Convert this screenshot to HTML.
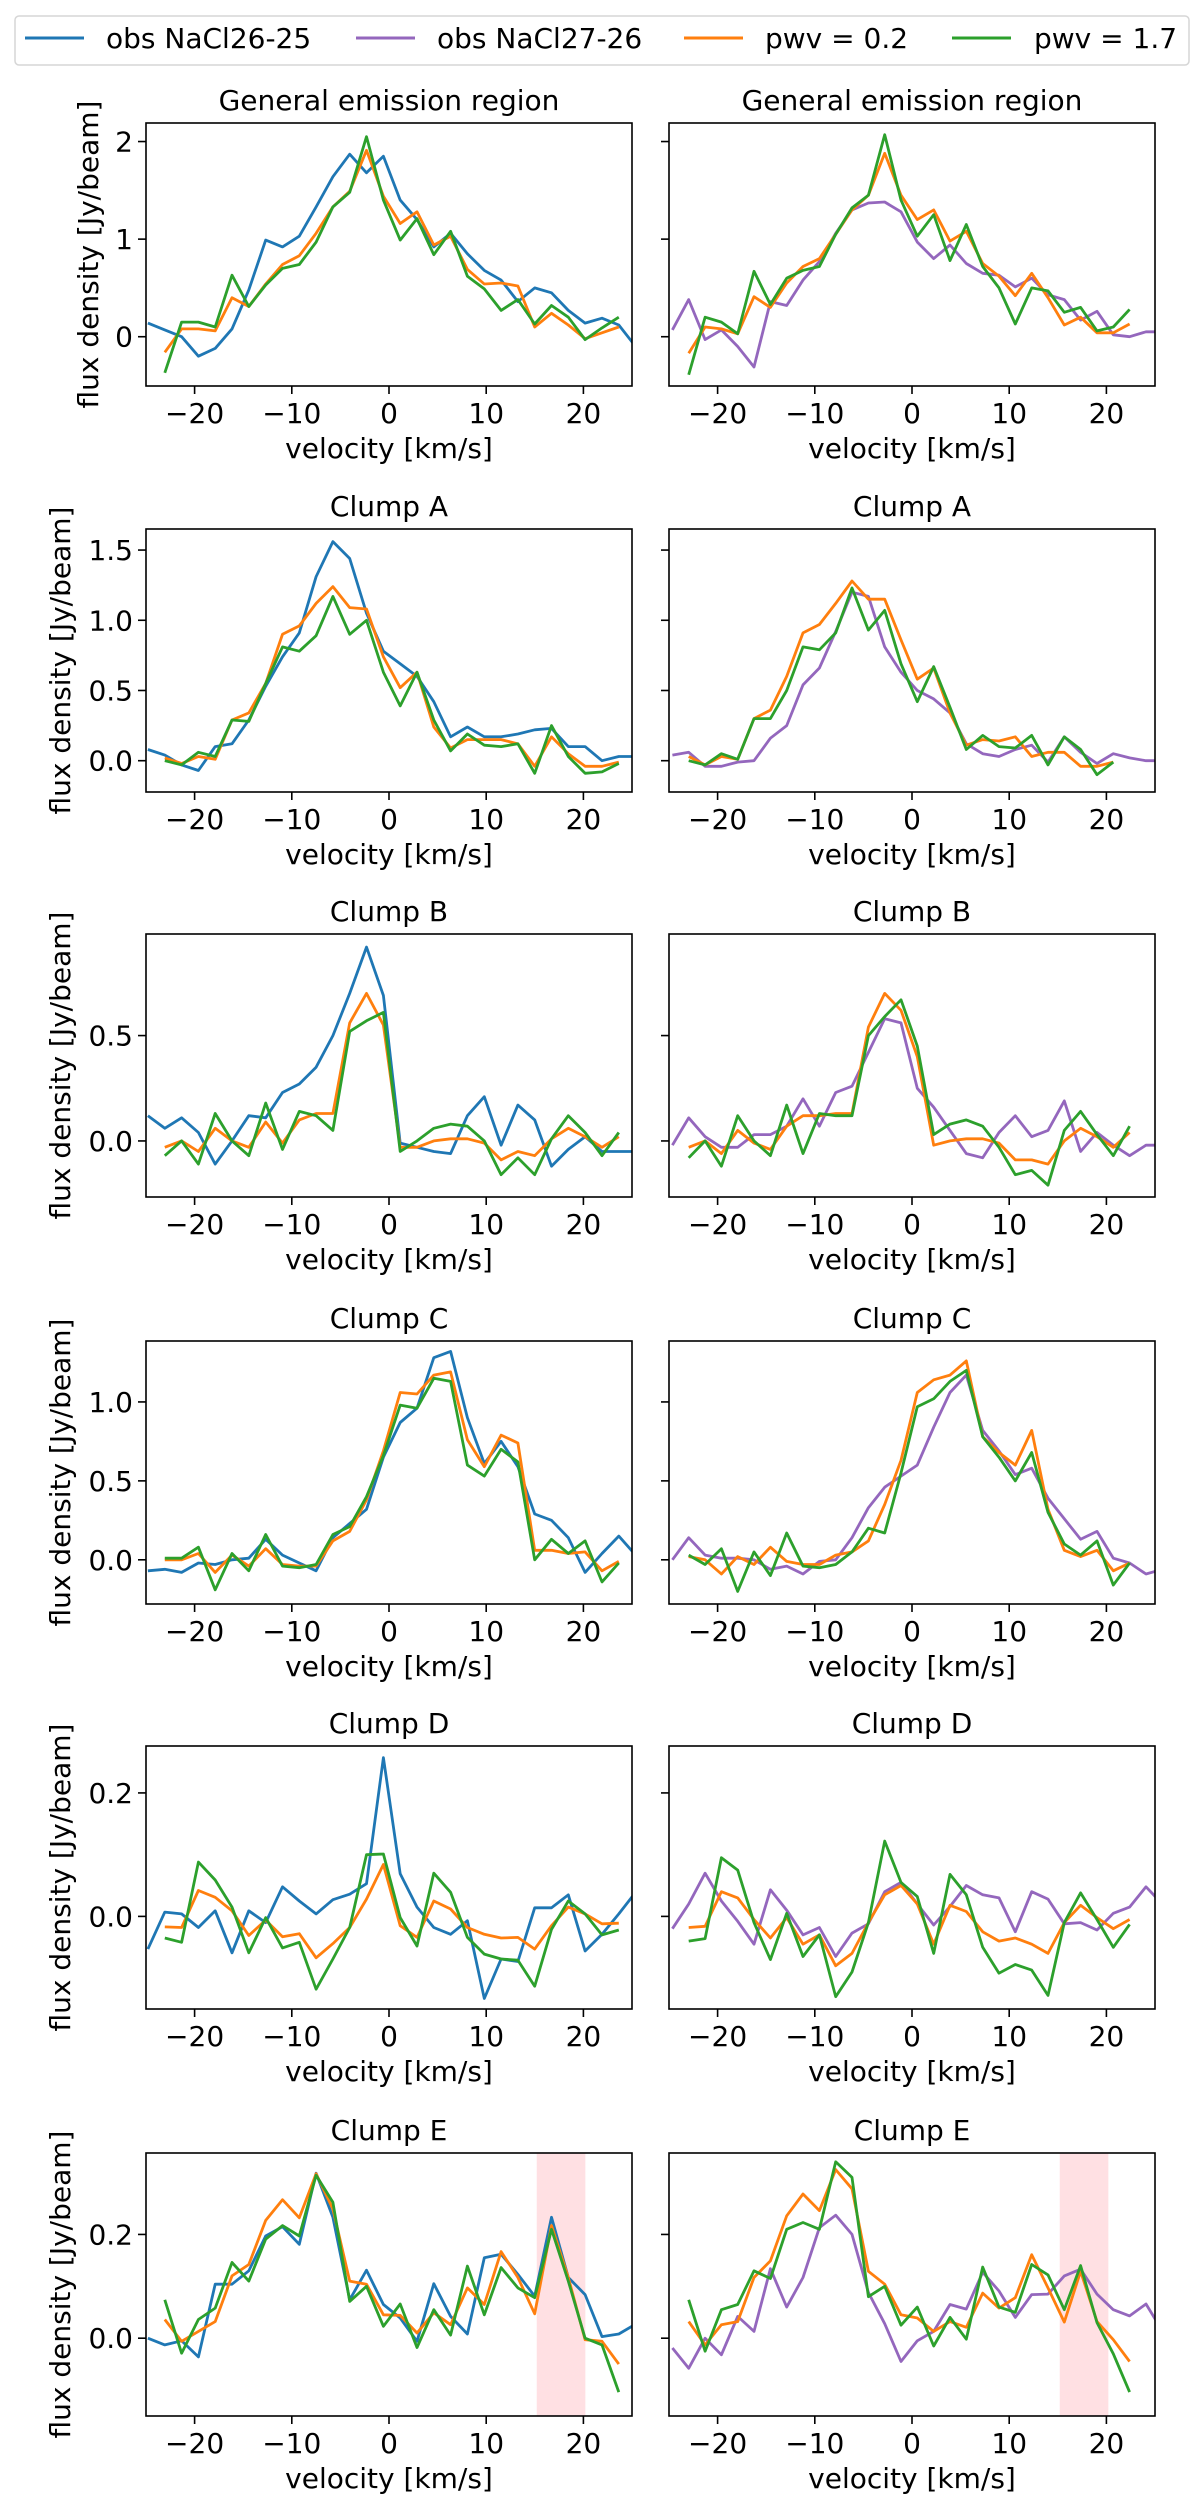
<!DOCTYPE html>
<html><head><meta charset="utf-8">
<style>
html,body{margin:0;padding:0;background:#fff;}
svg{display:block;font-family:"DejaVu Sans","Liberation Sans",sans-serif;}
</style></head>
<body>
<svg id="fig" width="1200" height="2506" viewBox="0 0 1200 2506" xmlns="http://www.w3.org/2000/svg">
<g>
<rect x="15" y="16" width="1174" height="49" rx="4" fill="#fff" stroke="#d6d6d6" stroke-width="1.5"/>
<g><line x1="25" y1="38" x2="84" y2="38" stroke="#1f77b4" stroke-width="3"/><text x="106" y="48" font-size="28">obs NaCl26-25</text></g>
<g><line x1="356" y1="38" x2="415" y2="38" stroke="#9467bd" stroke-width="3"/><text x="437" y="48" font-size="28">obs NaCl27-26</text></g>
<g><line x1="684" y1="38" x2="743" y2="38" stroke="#ff7f0e" stroke-width="3"/><text x="765" y="48" font-size="28">pwv = 0.2</text></g>
<g><line x1="952" y1="38" x2="1011" y2="38" stroke="#2ca02c" stroke-width="3"/><text x="1034" y="48" font-size="28">pwv = 1.7</text></g>
</g>
</svg>
<script>
// ---- data ----
const titles = ["General emission region","Clump A","Clump B","Clump C","Clump D","Clump E"];
const yLimLo = [-0.505,-0.223,-0.266,-0.28,-0.150,-0.150];
const yLimHi = [2.19,1.65,0.982,1.386,0.276,0.357];
const yTickVals = [[0,1,2],[0,0.5,1.0,1.5],[0,0.5],[0,0.5,1.0],[0,0.2],[0,0.2]];
const yTickText = [["0","1","2"],["0.0","0.5","1.0","1.5"],["0.0","0.5"],["0.0","0.5","1.0"],["0.0","0.2"],["0.0","0.2"]];
const xTickVals = [-20,-10,0,10,20];
const xTickText = ["\u221220","\u221210","0","10","20"];
const shadeLo = 15.2, shadeHi = 20.2;
// velocity grids: start, step
const vObs26 = [-24.8, 1.73];
const vModL = [-23.07, 1.73];
const vObs27 = [-24.65, 1.68];
const vModR = [-22.97, 1.68];

const obs26 = [
[0.14,0.07,0.0,-0.2,-0.12,0.08,0.48,0.99,0.92,1.03,1.33,1.64,1.87,1.68,1.85,1.4,1.2,0.92,1.06,0.85,0.68,0.58,0.36,0.5,0.45,0.27,0.14,0.19,0.12,-0.1],
[0.08,0.04,-0.03,-0.07,0.1,0.12,0.29,0.53,0.74,0.91,1.31,1.56,1.44,1.05,0.78,0.69,0.6,0.42,0.17,0.24,0.17,0.17,0.19,0.22,0.23,0.1,0.1,0.0,0.03,0.03],
[0.12,0.06,0.11,0.04,-0.11,0.0,0.12,0.11,0.23,0.27,0.35,0.5,0.7,0.92,0.69,-0.01,-0.03,-0.05,-0.06,0.12,0.21,-0.02,0.17,0.1,-0.12,-0.04,0.02,-0.05,-0.05,-0.05],
[-0.07,-0.06,-0.08,-0.02,-0.03,0.0,0.01,0.13,0.03,-0.02,-0.07,0.14,0.23,0.32,0.65,0.87,0.96,1.28,1.32,0.9,0.61,0.75,0.59,0.29,0.25,0.14,-0.08,0.04,0.15,0.03],
[-0.053,0.007,0.004,-0.018,0.009,-0.059,0.009,-0.01,0.048,0.025,0.004,0.027,0.036,0.053,0.257,0.069,0.015,-0.018,-0.029,-0.007,-0.133,-0.069,-0.073,0.014,0.014,0.035,-0.056,-0.029,0.004,0.039],
[0.0,-0.013,-0.005,-0.036,0.104,0.104,0.13,0.197,0.215,0.181,0.318,0.233,0.074,0.131,0.065,0.039,-0.006,0.105,0.042,0.008,0.155,0.162,0.123,0.081,0.233,0.117,0.084,0.003,0.008,0.027]
];
const obs27 = [
[0.07,0.38,-0.03,0.07,-0.1,-0.31,0.36,0.32,0.58,0.77,1.06,1.3,1.37,1.38,1.28,0.97,0.8,0.94,0.75,0.65,0.63,0.51,0.6,0.43,0.38,0.17,0.26,0.02,0.0,0.05,0.05],
[0.04,0.06,-0.04,-0.04,-0.01,0.0,0.16,0.25,0.54,0.66,0.92,1.2,1.17,0.81,0.63,0.5,0.44,0.34,0.12,0.05,0.03,0.08,0.11,-0.01,0.17,0.06,-0.02,0.05,0.02,0.0,0.0],
[-0.02,0.11,0.02,-0.03,-0.03,0.03,0.03,0.07,0.2,0.07,0.23,0.26,0.42,0.58,0.56,0.25,0.16,0.05,-0.06,-0.08,0.04,0.12,0.02,0.05,0.19,-0.05,0.04,-0.02,-0.07,-0.02,-0.02],
[0.0,0.14,0.03,0.01,0.01,0.0,-0.06,-0.04,-0.09,-0.01,0.0,0.14,0.33,0.46,0.53,0.6,0.84,1.06,1.17,0.82,0.69,0.54,0.58,0.39,0.26,0.13,0.18,0.01,-0.02,-0.09,-0.06],
[-0.02,0.02,0.07,0.025,-0.008,-0.045,0.043,0.01,-0.03,-0.018,-0.065,-0.027,-0.012,0.04,0.055,0.02,-0.014,0.016,0.05,0.035,0.03,-0.025,0.04,0.028,-0.012,-0.01,-0.022,0.005,0.015,0.048,0.02],
[-0.019,-0.058,0.0,-0.032,0.042,0.013,0.134,0.06,0.117,0.213,0.237,0.2,0.088,0.028,-0.045,-0.005,0.013,0.065,0.056,0.127,0.091,0.04,0.084,0.085,0.12,0.133,0.085,0.055,0.043,0.066,0.014]
];
const pwv02L = [
[-0.16,0.08,0.08,0.06,0.4,0.31,0.54,0.74,0.83,1.06,1.33,1.49,1.91,1.44,1.16,1.28,0.94,1.03,0.69,0.54,0.55,0.52,0.1,0.24,0.12,-0.02,0.04,0.1],
[0.02,-0.02,0.03,0.01,0.29,0.34,0.55,0.9,0.96,1.12,1.24,1.09,1.08,0.74,0.52,0.63,0.24,0.09,0.15,0.15,0.15,0.12,-0.04,0.17,0.05,-0.04,-0.04,-0.01],
[-0.03,0.0,-0.05,0.06,0.0,-0.03,0.09,-0.01,0.1,0.13,0.13,0.56,0.7,0.55,-0.03,-0.03,0.0,0.01,0.01,-0.01,-0.09,-0.05,-0.07,0.01,0.06,0.02,-0.03,0.02],
[0.0,0.0,0.04,-0.08,0.03,-0.04,0.07,-0.03,-0.04,-0.04,0.12,0.18,0.38,0.69,1.06,1.05,1.17,1.19,0.76,0.59,0.79,0.74,0.06,0.06,0.04,0.05,-0.07,-0.01],
[-0.017,-0.018,0.042,0.031,0.009,-0.031,-0.006,-0.033,-0.028,-0.067,-0.044,-0.018,0.028,0.084,-0.015,-0.034,0.025,0.012,-0.018,-0.029,-0.035,-0.034,-0.053,-0.015,0.015,0.004,-0.012,-0.011],
[0.036,-0.006,0.013,0.032,0.12,0.142,0.227,0.267,0.232,0.317,0.249,0.11,0.104,0.045,0.044,0.01,0.049,0.026,0.097,0.065,0.167,0.117,0.047,0.217,0.117,-0.003,-0.006,-0.05]
];
const pwv17L = [
[-0.37,0.15,0.15,0.1,0.63,0.31,0.53,0.7,0.74,0.97,1.33,1.48,2.05,1.4,0.99,1.21,0.84,1.08,0.62,0.49,0.27,0.38,0.13,0.32,0.2,-0.03,0.09,0.2],
[0.0,-0.03,0.06,0.03,0.29,0.28,0.55,0.81,0.78,0.89,1.17,0.9,1.0,0.63,0.39,0.63,0.29,0.07,0.19,0.11,0.1,0.12,-0.09,0.25,0.03,-0.09,-0.08,-0.02],
[-0.07,0.0,-0.11,0.13,0.0,-0.07,0.18,-0.04,0.14,0.12,0.05,0.52,0.57,0.61,-0.05,0.0,0.06,0.08,0.07,0.0,-0.16,-0.08,-0.16,0.01,0.12,0.04,-0.07,0.04],
[0.01,0.01,0.08,-0.19,0.04,-0.07,0.16,-0.04,-0.05,-0.03,0.16,0.21,0.4,0.66,0.98,0.96,1.15,1.13,0.6,0.53,0.7,0.62,0.0,0.13,0.04,0.12,-0.14,-0.02],
[-0.035,-0.042,0.088,0.059,0.015,-0.059,-0.002,-0.051,-0.042,-0.118,-0.069,-0.018,0.1,0.101,-0.002,-0.048,0.07,0.039,-0.034,-0.061,-0.069,-0.071,-0.113,-0.021,0.025,0.004,-0.03,-0.022],
[0.074,-0.029,0.036,0.058,0.146,0.11,0.191,0.217,0.197,0.314,0.262,0.071,0.1,0.023,0.066,-0.018,0.055,0.006,0.139,0.045,0.136,0.097,0.078,0.21,0.11,0.0,-0.013,-0.104]
];
const pwv02R = [
[-0.17,0.1,0.08,0.03,0.41,0.3,0.55,0.72,0.8,1.05,1.3,1.45,1.88,1.45,1.2,1.3,0.98,1.08,0.75,0.62,0.42,0.65,0.4,0.12,0.2,0.04,0.04,0.13],
[0.03,-0.03,0.03,0.01,0.3,0.36,0.6,0.91,0.97,1.12,1.28,1.15,1.15,0.86,0.58,0.66,0.34,0.11,0.15,0.14,0.17,0.03,0.06,0.06,-0.04,-0.04,-0.01],
[-0.03,0.0,-0.06,0.05,-0.01,-0.04,0.07,0.12,0.12,0.13,0.13,0.54,0.7,0.62,0.4,-0.02,0.0,0.01,0.01,-0.01,-0.09,-0.09,-0.11,0.0,0.06,0.02,-0.03,0.04],
[0.02,0.0,-0.09,0.02,-0.03,0.08,-0.01,-0.03,-0.03,0.03,0.05,0.12,0.35,0.63,1.06,1.14,1.17,1.26,0.78,0.68,0.6,0.82,0.32,0.06,0.02,0.06,-0.07,-0.02],
[-0.018,-0.016,0.04,0.03,-0.005,-0.035,-0.002,-0.045,-0.03,-0.08,-0.06,-0.01,0.035,0.05,0.02,-0.045,0.018,0.008,-0.025,-0.04,-0.035,-0.045,-0.06,-0.01,0.018,-0.002,-0.02,-0.005],
[0.032,-0.013,0.026,0.032,0.117,0.149,0.236,0.278,0.246,0.325,0.288,0.129,0.104,0.045,0.039,0.013,0.032,0.021,0.087,0.058,0.078,0.161,0.097,0.031,0.129,0.032,-0.003,-0.045]
];
const pwv17R = [
[-0.39,0.2,0.15,0.03,0.67,0.33,0.6,0.68,0.72,1.05,1.32,1.45,2.07,1.4,1.03,1.25,0.78,1.15,0.72,0.5,0.13,0.5,0.47,0.25,0.3,0.06,0.1,0.28],
[0.0,-0.03,0.05,0.01,0.3,0.3,0.5,0.81,0.79,0.91,1.23,0.93,1.07,0.69,0.42,0.67,0.38,0.08,0.18,0.1,0.09,0.18,-0.03,0.17,0.08,-0.1,-0.01],
[-0.08,0.0,-0.12,0.12,0.0,-0.07,0.17,-0.06,0.13,0.12,0.12,0.5,0.59,0.67,0.45,0.03,0.08,0.1,0.07,-0.03,-0.16,-0.14,-0.21,0.05,0.14,0.03,-0.07,0.07],
[0.03,-0.03,0.07,-0.2,0.05,-0.1,0.17,-0.04,-0.05,-0.03,0.05,0.2,0.17,0.55,0.97,1.02,1.13,1.2,0.78,0.65,0.5,0.68,0.3,0.1,0.03,0.12,-0.16,-0.02],
[-0.04,-0.036,0.095,0.075,-0.01,-0.07,0.005,-0.065,-0.03,-0.13,-0.09,-0.01,0.122,0.055,0.032,-0.06,0.068,0.035,-0.05,-0.092,-0.078,-0.087,-0.128,-0.01,0.038,-0.005,-0.05,-0.013],
[0.074,-0.025,0.055,0.065,0.13,0.115,0.21,0.223,0.21,0.34,0.31,0.08,0.1,0.025,0.06,-0.015,0.04,-0.002,0.137,0.06,0.05,0.142,0.122,0.055,0.14,0.03,-0.03,-0.104]
];

// ---- layout ----
const NS = "http://www.w3.org/2000/svg";
const svg = document.getElementById("fig");
const colX = [146, 669];
const panelW = 486, panelH = 263;
const rowTop = [123, 529, 934, 1341, 1746, 2153];
const xMin = -25, xMax = 25;
const ylabelX = [98, 70, 70, 70, 70, 70];
const COLORS = {obs26:"#1f77b4", obs27:"#9467bd", p02:"#ff7f0e", p17:"#2ca02c"};

function mk(tag, attrs, parent) {
  const e = document.createElementNS(NS, tag);
  for (const k in attrs) e.setAttribute(k, attrs[k]);
  (parent || svg).appendChild(e);
  return e;
}
function series(vals, grid) { return vals.map((y, i) => [grid[0] + grid[1] * i, y]); }

for (let r = 0; r < 6; r++) {
  for (let c = 0; c < 2; c++) {
    const x0 = colX[c], y0 = rowTop[r];
    const sx = v => x0 + (v - xMin) / (xMax - xMin) * panelW;
    const sy = v => y0 + (yLimHi[r] - v) / (yLimHi[r] - yLimLo[r]) * panelH;
    const side = c === 0 ? "left" : "right";
    const g = mk("g", {});
    
    
    const cid = "clip" + r + c;
    const cp = mk("clipPath", {id: cid}, g);
    mk("rect", {x: x0, y: y0, width: panelW, height: panelH}, cp);

    if (r === 5) {
      const sh = mk("rect", {x: sx(shadeLo), y: y0, width: sx(shadeHi) - sx(shadeLo), height: panelH, fill: "#ffe0e3"}, g);
      
      
    }

    const lines = c === 0
      ? [["obs-nacl26-25", COLORS.obs26, series(obs26[r], vObs26)], ["pwv-0.2", COLORS.p02, series(pwv02L[r], vModL)], ["pwv-1.7", COLORS.p17, series(pwv17L[r], vModL)]]
      : [["obs-nacl27-26", COLORS.obs27, series(obs27[r], vObs27)], ["pwv-0.2", COLORS.p02, series(pwv02R[r], vModR)], ["pwv-1.7", COLORS.p17, series(pwv17R[r], vModR)]];
    const lg = mk("g", {"clip-path": "url(#" + cid + ")"}, g);
    for (const [nm, col, pts] of lines) {
      const d = pts.map((p, i) => (i ? "L" : "M") + sx(p[0]).toFixed(1) + "," + sy(p[1]).toFixed(1)).join("");
      const pl = mk("path", {d: d, fill: "none", stroke: col, "stroke-width": 2.8, "stroke-linejoin": "round"}, lg);
      
      
    }

    const fr = mk("rect", {x: x0, y: y0, width: panelW, height: panelH, fill: "none", stroke: "#000", "stroke-width": 1.6}, g);
    
    

    for (let i = 0; i < xTickVals.length; i++) {
      const x = sx(xTickVals[i]);
      const tk = mk("line", {x1: x, y1: y0 + panelH, x2: x, y2: y0 + panelH + 8, stroke: "#000", "stroke-width": 1.6}, g);
      
      
      const tl = mk("text", {x: x, y: y0 + panelH + 37, "font-size": 28, "text-anchor": "middle"}, g);
      tl.textContent = xTickText[i];
      
      
    }
    for (let i = 0; i < yTickVals[r].length; i++) {
      const y = sy(yTickVals[r][i]);
      const tk = mk("line", {x1: x0 - 8, y1: y, x2: x0, y2: y, stroke: "#000", "stroke-width": 1.6}, g);
      
      
      if (c === 0) {
        const tl = mk("text", {x: x0 - 13, y: y + 10, "font-size": 28, "text-anchor": "end"}, g);
        tl.textContent = yTickText[r][i];
        
        
      }
    }
    const tt = mk("text", {x: x0 + panelW / 2, y: y0 - 13, "font-size": 28, "text-anchor": "middle"}, g);
    tt.textContent = titles[r];
    
    
    const xl = mk("text", {x: x0 + panelW / 2, y: y0 + panelH + 72, "font-size": 28, "text-anchor": "middle"}, g);
    xl.textContent = "velocity [km/s]";
    
    
    if (c === 0) {
      const cy = y0 + panelH / 2;
      const yl = mk("text", {x: ylabelX[r], y: cy, "font-size": 28, "text-anchor": "middle", transform: "rotate(-90 " + ylabelX[r] + " " + cy + ")"}, g);
      yl.textContent = "flux density [Jy/beam]";
      
      
    }
  }
}
</script>
</body></html>
